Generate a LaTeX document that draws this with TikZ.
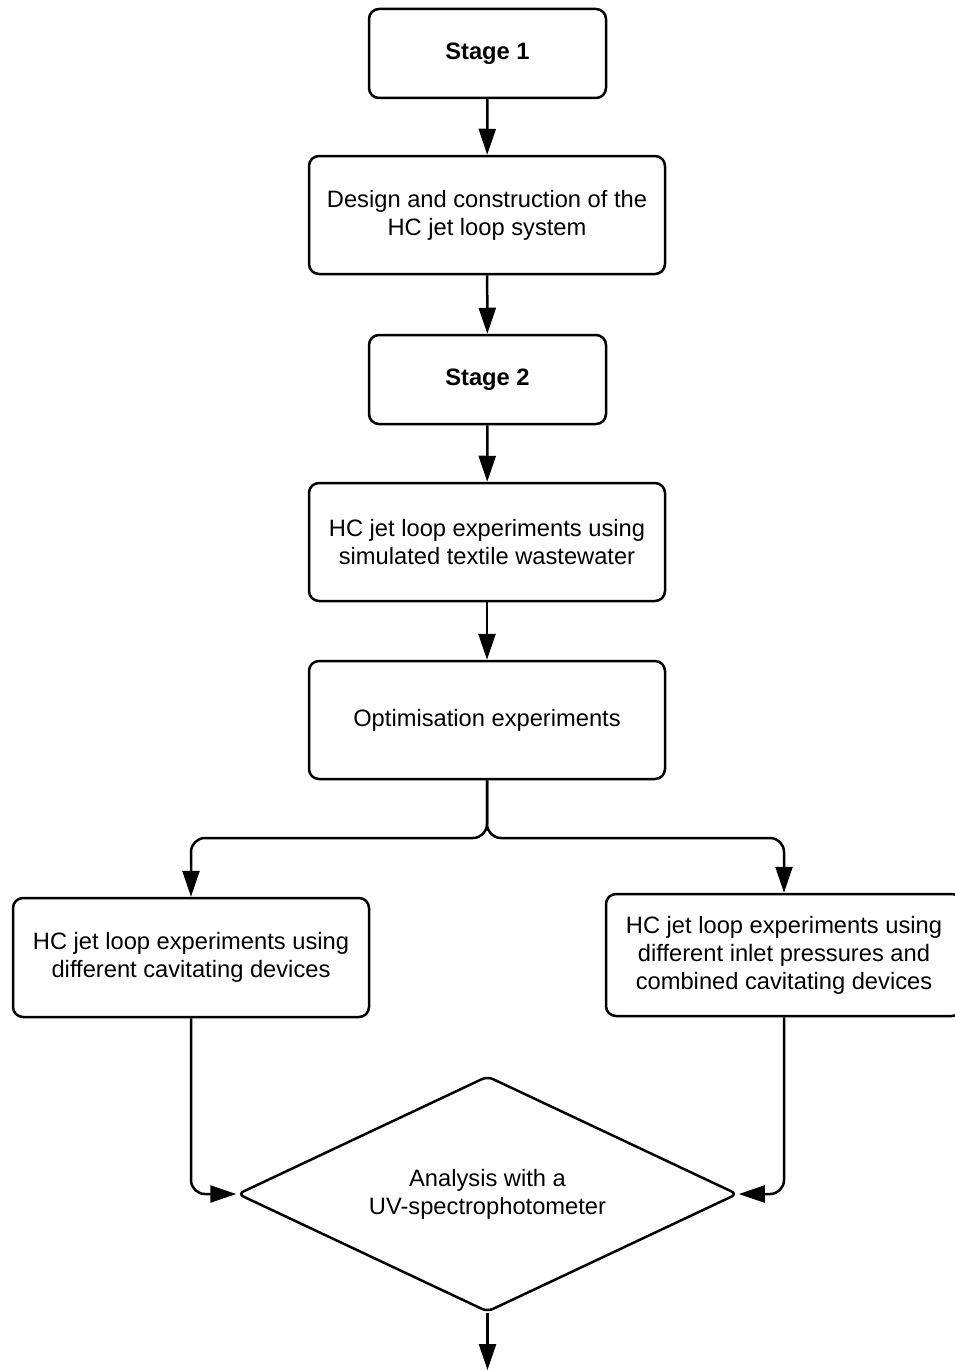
\documentclass[tikz,border=0pt]{standalone}
\usepackage{fontspec}
\setmainfont{Liberation Sans}
\usepackage{tikz}
\usetikzlibrary{arrows.meta, shapes.geometric, positioning, calc}

\begin{document}
\begin{tikzpicture}[x=1pt, y=-1pt,
    every node/.style={font=\fontsize{23.7}{28}\selectfont, align=center, inner sep=0pt},
    box/.style={draw, line width=2.5pt, rounded corners=10pt, minimum width=356pt, minimum height=118pt},
    stagebox/.style={box, minimum width=237pt, minimum height=89pt, font=\fontsize{23.7}{28}\selectfont\bfseries},
    decision/.style={draw, line width=2.5pt, diamond, aspect=2.13, rounded corners=6pt, minimum width=500pt, minimum height=236pt},
    flow/.style={line width=2.5pt, -{Triangle[length=26pt,width=17pt]}}]

            % Khung trang
            \useasboundingbox (0,0) rectangle (955,1370);

            % Các khối chính
            \node[stagebox] (stage1) at (487.5,53.5) {Stage 1};
            \node[box] (design) at (487,215) {Design and construction of the\\HC jet loop system};
            \node[stagebox] (stage2) at (487.5,379.5) {Stage 2};
            \node[box] (simulated) at (487,542) {HC jet loop experiments using\\simulated textile wastewater};
            \node[box] (optimise) at (487,720) {Optimisation experiments};
            \node[box, minimum height=119pt] (devices) at (191,957.5) {HC jet loop experiments using\\different cavitating devices};
            \node[box, minimum height=122pt] (pressures) at (784,955) {HC jet loop experiments using\\different inlet pressures and\\combined cavitating devices};
            \node[decision] (analysis) at (487.5,1194) {Analysis with a\\UV-spectrophotometer};

            % Điểm phụ
            \coordinate (fork) at (487,838);
            \coordinate (out) at (487.5,1370);

            % Mũi tên
            \draw[flow] (stage1) -- (design);
            \draw[flow] (design) -- (stage2);
            \draw[flow] (stage2) -- (simulated);
            \draw[flow] (simulated) -- (optimise);
            \draw[flow, rounded corners=14pt] (optimise.south) -- (fork) -| (devices.north);
            \draw[flow, rounded corners=14pt] (optimise.south) -- (fork) -| (pressures.north);
            \draw[flow, rounded corners=14pt] (devices.south) |- (analysis.west);
            \draw[flow, rounded corners=14pt] (pressures.south) |- (analysis.east);
            \draw[flow] (analysis.south) -- (out);

            \end{tikzpicture}
\end{document}
